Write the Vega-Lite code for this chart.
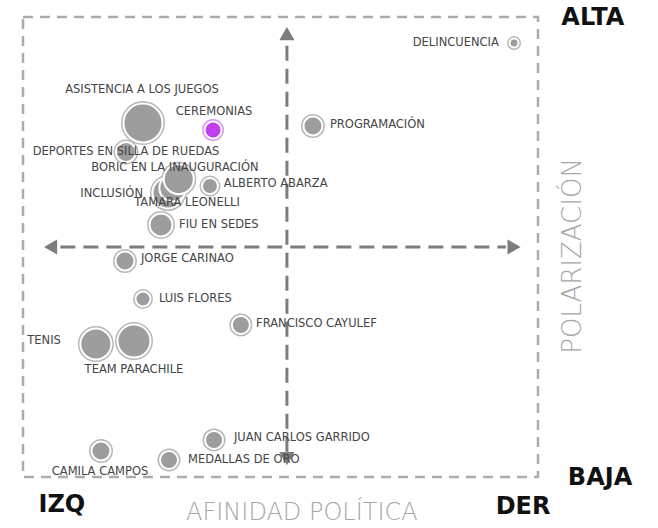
{
  "$schema": "https://vega.github.io/schema/vega-lite/v6.json",
  "width": 515,
  "height": 460,
  "autosize": "none",
  "padding": {"left": 23, "top": 17, "right": 120, "bottom": 51},
  "background": "white",
  "config": {
    "view": {"stroke": "#acacac", "strokeDash": [10, 7], "strokeWidth": 2.5},
    "text": {"font": "DejaVu Sans"}
  },
  "datasets": {
    "temas": [
      {"tema": "DELINCUENCIA", "x": 88.2, "y": 88.7, "volumen": 20, "grupo": "general"},
      {"tema": "ASISTENCIA A LOS JUEGOS", "x": -55.9, "y": 53.9, "volumen": 380, "grupo": "general"},
      {"tema": "PROGRAMACIÓN", "x": 10.1, "y": 52.6, "volumen": 90, "grupo": "general"},
      {"tema": "DEPORTES EN SILLA DE RUEDAS", "x": -62.5, "y": 41.3, "volumen": 100, "grupo": "general"},
      {"tema": "INCLUSIÓN", "x": -46.2, "y": 23.5, "volumen": 240, "grupo": "general"},
      {"tema": "TAMARA LEONELLI", "x": -44.3, "y": 25.7, "volumen": 182, "grupo": "general"},
      {"tema": "BORIC EN LA INAUGURACIÓN", "x": -42.0, "y": 29.5, "volumen": 225, "grupo": "general"},
      {"tema": "ALBERTO ABARZA", "x": -29.9, "y": 26.5, "volumen": 64, "grupo": "general"},
      {"tema": "FIU EN SEDES", "x": -48.9, "y": 9.6, "volumen": 132, "grupo": "general"},
      {"tema": "JORGE CARINAO", "x": -62.9, "y": -6.1, "volumen": 90, "grupo": "general"},
      {"tema": "LUIS FLORES", "x": -55.9, "y": -22.6, "volumen": 56, "grupo": "general"},
      {"tema": "FRANCISCO CAYULEF", "x": -17.9, "y": -33.9, "volumen": 81, "grupo": "general"},
      {"tema": "TENIS", "x": -74.2, "y": -42.2, "volumen": 240, "grupo": "general"},
      {"tema": "TEAM PARACHILE", "x": -59.4, "y": -40.9, "volumen": 272, "grupo": "general"},
      {"tema": "JUAN CARLOS GARRIDO", "x": -28.3, "y": -83.9, "volumen": 81, "grupo": "general"},
      {"tema": "MEDALLAS DE ORO", "x": -45.8, "y": -92.6, "volumen": 81, "grupo": "general"},
      {"tema": "CAMILA CAMPOS", "x": -72.2, "y": -88.7, "volumen": 90, "grupo": "general"},
      {"tema": "CEREMONIAS", "x": -28.7, "y": 50.9, "volumen": 72, "grupo": "destacado"}
    ],
    "etiquetas": [
      {"texto": "DELINCUENCIA", "x": 82.3, "y": 88.7, "ancla": "derecha"},
      {"texto": "ASISTENCIA A LOS JUEGOS", "x": -56.3, "y": 68.3, "ancla": "centro"},
      {"texto": "CEREMONIAS", "x": -28.3, "y": 58.7, "ancla": "centro"},
      {"texto": "PROGRAMACIÓN", "x": 16.7, "y": 53.0, "ancla": "izquierda"},
      {"texto": "DEPORTES EN SILLA DE RUEDAS", "x": -62.5, "y": 41.3, "ancla": "centro"},
      {"texto": "BORIC EN LA INAUGURACIÓN", "x": -43.5, "y": 34.3, "ancla": "centro"},
      {"texto": "ALBERTO ABARZA", "x": -24.5, "y": 27.4, "ancla": "izquierda"},
      {"texto": "INCLUSIÓN", "x": -55.9, "y": 23.0, "ancla": "derecha"},
      {"texto": "TAMARA LEONELLI", "x": -38.8, "y": 19.1, "ancla": "centro"},
      {"texto": "FIU EN SEDES", "x": -41.9, "y": 9.6, "ancla": "izquierda"},
      {"texto": "JORGE CARINAO", "x": -56.7, "y": -5.2, "ancla": "izquierda"},
      {"texto": "LUIS FLORES", "x": -49.7, "y": -22.6, "ancla": "izquierda"},
      {"texto": "FRANCISCO CAYULEF", "x": -12.0, "y": -33.5, "ancla": "izquierda"},
      {"texto": "TENIS", "x": -87.8, "y": -40.9, "ancla": "derecha"},
      {"texto": "TEAM PARACHILE", "x": -59.4, "y": -53.5, "ancla": "centro"},
      {"texto": "JUAN CARLOS GARRIDO", "x": -20.6, "y": -83.0, "ancla": "izquierda"},
      {"texto": "MEDALLAS DE ORO", "x": -38.4, "y": -92.6, "ancla": "izquierda"},
      {"texto": "CAMILA CAMPOS", "x": -72.6, "y": -97.8, "ancla": "centro"}
    ],
    "ejes": [
      {"x": 0, "y": -89, "x2": 0, "y2": 89},
      {"x": -88, "y": 0, "x2": 85, "y2": 0}
    ],
    "puntas": [
      {"x": 0, "y": 92.8, "forma": "triangle-up"},
      {"x": 0, "y": -92.0, "forma": "triangle-down"},
      {"x": -91.8, "y": 0, "forma": "triangle-left"},
      {"x": 88.2, "y": 0, "forma": "triangle-right"}
    ],
    "extremos": [
      {"texto": "ALTA", "x": 118.8, "y": 99.6},
      {"texto": "BAJA", "x": 121.6, "y": -100.4},
      {"texto": "IZQ", "x": -87.4, "y": -112.2},
      {"texto": "DER", "x": 91.7, "y": -113.0}
    ]
  },
  "encoding": {
    "x": {"field": "x", "type": "quantitative", "scale": {"domain": [-102.5, 97.5], "nice": false, "zero": false}, "axis": null},
    "y": {"field": "y", "type": "quantitative", "scale": {"domain": [-100, 100], "nice": false, "zero": false}, "axis": null}
  },
  "layer": [
    {
      "data": {"name": "ejes"},
      "mark": {"type": "rule", "color": "#7d7d7d", "strokeWidth": 3, "strokeDash": [15, 8]},
      "encoding": {"x2": {"field": "x2"}, "y2": {"field": "y2"}}
    },
    {
      "data": {"name": "puntas"},
      "mark": {"type": "point", "filled": true, "color": "#7d7d7d", "opacity": 1, "size": 230},
      "encoding": {"shape": {"field": "forma", "type": "nominal", "scale": null}}
    },
    {
      "data": {"name": "temas"},
      "mark": {"type": "circle", "filled": false, "strokeWidth": 5, "opacity": 1},
      "encoding": {
        "size": {"field": "volumen", "type": "quantitative", "scale": {"domain": [0, 400], "range": [0, 1600], "zero": true}, "legend": null},
        "stroke": {"field": "grupo", "type": "nominal", "scale": {"domain": ["general", "destacado"], "range": ["#b8b8b8", "#dc95f5"]}, "legend": null}
      }
    },
    {
      "data": {"name": "temas"},
      "mark": {"type": "circle", "stroke": "white", "strokeWidth": 2, "opacity": 1},
      "encoding": {
        "size": {"field": "volumen", "type": "quantitative", "legend": null},
        "fill": {"field": "grupo", "type": "nominal", "scale": {"domain": ["general", "destacado"], "range": ["#9d9d9d", "#c23ff0"]}, "legend": null}
      }
    },
    {
      "data": {"name": "etiquetas"},
      "transform": [{"filter": "datum.ancla === 'izquierda'"}],
      "mark": {"type": "text", "align": "left", "baseline": "middle", "fontSize": 11.5, "color": "#454545"},
      "encoding": {"text": {"field": "texto"}}
    },
    {
      "data": {"name": "etiquetas"},
      "transform": [{"filter": "datum.ancla === 'derecha'"}],
      "mark": {"type": "text", "align": "right", "baseline": "middle", "fontSize": 11.5, "color": "#454545"},
      "encoding": {"text": {"field": "texto"}}
    },
    {
      "data": {"name": "etiquetas"},
      "transform": [{"filter": "datum.ancla === 'centro'"}],
      "mark": {"type": "text", "align": "center", "baseline": "middle", "fontSize": 11.5, "color": "#454545"},
      "encoding": {"text": {"field": "texto"}}
    },
    {
      "data": {"name": "extremos"},
      "mark": {"type": "text", "align": "center", "baseline": "middle", "fontSize": 24, "fontWeight": "bold", "color": "#111111"},
      "encoding": {"text": {"field": "texto"}}
    },
    {
      "data": {"values": [{"texto": "AFINIDAD POLÍTICA", "x": 5.8, "y": -115.8}]},
      "mark": {"type": "text", "align": "center", "baseline": "middle", "fontSize": 24, "fontWeight": 200, "color": "#a6a6a6"},
      "encoding": {"text": {"field": "texto"}}
    },
    {
      "data": {"values": [{"texto": "POLARIZACIÓN", "x": 111.1, "y": -3.9}]},
      "mark": {"type": "text", "align": "center", "baseline": "middle", "angle": 270, "fontSize": 26, "fontWeight": 200, "color": "#a6a6a6"},
      "encoding": {"text": {"field": "texto"}}
    }
  ]
}
